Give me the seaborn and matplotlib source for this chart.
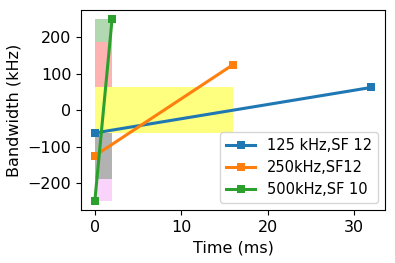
import pandas as pd
import seaborn as sns
import matplotlib.pyplot as plt

# chirp lines: start/end time (ms) and bandwidth (kHz)
labels = ["125 kHz,SF 12", "250kHz,SF12", "500kHz,SF 10"]
t_start = [0, 0, 0]
t_end = [32, 16, 2]
bw_start = [-62.5, -125, -250]
bw_end = [62.5, 125, 250]

# shaded bands: x extent, y extent, colour, alpha
band_x0 = [0, 0, 0, 0, 0]
band_x1 = [2, 2, 16, 2, 2]
band_y0 = [187.5, 62.5, -62.5, -187.5, -250]
band_y1 = [250, 187.5, 62.5, -62.5, -187.5]
band_color = ["green", "red", "yellow", "black", "violet"]
band_alpha = [0.3, 0.3, 0.5, 0.3, 0.35]

rows = []
for lab, t0, t1, b0, b1 in zip(labels, t_start, t_end, bw_start, bw_end):
    rows.append({"Config": lab, "Time": t0, "BW": b0})
    rows.append({"Config": lab, "Time": t1, "BW": b1})
df = pd.DataFrame(rows)

plt.rcParams["font.size"] = 11.5
fig, ax = plt.subplots(figsize=(3.95, 2.63), dpi=100)
fig.subplots_adjust(left=0.205, right=0.975, top=0.962, bottom=0.2)

for x0, x1, y0, y1, c, a in zip(band_x0, band_x1, band_y0, band_y1, band_color, band_alpha):
    ax.fill_between([x0, x1], y0, y1, color=c, alpha=a, linewidth=0)

sns.lineplot(data=df, x="Time", y="BW", hue="Config", palette="tab10",
             marker="s", markeredgewidth=0, markersize=5.5, linewidth=2.2, ax=ax)

ax.set_xlabel("Time (ms)")
ax.set_ylabel("Bandwidth (kHz)")
ax.set_yticks([-200, -100, 0, 100, 200])
ax.set_xticks([0, 10, 20, 30])
ax.legend(title=None, loc="lower right", fontsize=10.5)

fig.savefig("out.png")
